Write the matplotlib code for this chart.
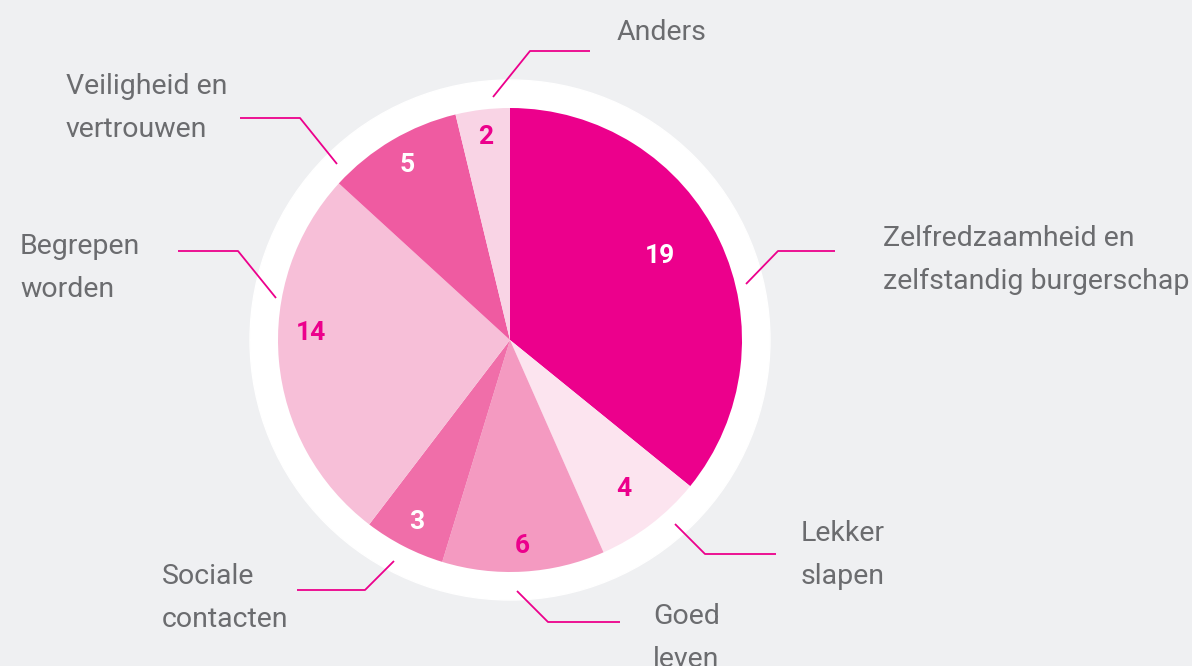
import numpy as np
import matplotlib.pyplot as plt
from matplotlib.patches import Circle

# data
labels = ['Zelfredzaamheid en\nzelfstandig burgerschap', 'Lekker\nslapen', 'Goed\nleven',
          'Sociale\ncontacten', 'Begrepen\nworden', 'Veiligheid en\nvertrouwen', 'Anders']
values = [19, 4, 6, 3, 14, 5, 2]
colors = ['#ec008c', '#fce4ef', '#f49ac1', '#f06ea9', '#f7bfd8', '#ef5ba1', '#f9d4e5']
num_colors = ['white', '#ec008c', '#ec008c', 'white', '#ec008c', 'white', '#ec008c']

W, H = 1192, 666
BG = '#eff0f2'
MAG = '#ec008c'
GREY = '#6b6c6f'

# layout (pixel coords, y from top)
cx, cy, r, ring = 510, 340, 232, 260
num_dist = [0.74, 0.81, 0.89, 0.88, 0.86, 0.875, 0.88]
num_rot = [4, 0, 0, 0, -7, 0, 0]   # nudge of number position, degrees ccw
leaders = [
    [(746, 284), (778, 251), (835, 251)],
    [(675, 524), (705, 554), (776, 554)],
    [(517, 591), (548, 622), (620, 622)],
    [(394, 561), (365, 590), (297, 590)],
    [(276, 298), (238, 251), (178, 251)],
    [(337, 164), (300, 118), (240, 118)],
    [(493, 97), (530, 51), (590, 51)],
]
text_pos = [(883, 260), (801, 555), (653, 638), (162, 598), (20, 268), (66, 108), (617, 33)]

fig = plt.figure(figsize=(W / 100, H / 100), dpi=100, facecolor=BG)
ax = fig.add_axes([0, 0, 1, 1])
ax.set_facecolor(BG)

ax.add_patch(Circle((cx, H - cy), ring, color='white', zorder=0))
wedges, _ = ax.pie(values, colors=colors, startangle=90, counterclock=False,
                   radius=r, center=(cx, H - cy), frame=True,
                   wedgeprops=dict(linewidth=0))

for w, v, c, d, rot in zip(wedges, values, num_colors, num_dist, num_rot):
    ang = np.deg2rad((w.theta1 + w.theta2) / 2 + rot)
    x = cx + d * r * np.cos(ang)
    y = (H - cy) + d * r * np.sin(ang)
    ax.text(x, y, str(v), color=c, fontsize=19, fontweight='bold',
            family='Roboto', ha='center', va='center')

for pts in leaders:
    ax.plot([p[0] for p in pts], [H - p[1] for p in pts], color=MAG, lw=1.3,
            solid_capstyle='butt')

for lab, (tx, ty) in zip(labels, text_pos):
    ax.text(tx, H - ty, lab, color=GREY, fontsize=20.5, family='Roboto',
            ha='left', va='center', linespacing=1.72)

ax.set_xlim(0, W)
ax.set_ylim(0, H)
ax.set_aspect('equal')
ax.axis('off')

fig.savefig('out.png', dpi=100, facecolor=BG)
